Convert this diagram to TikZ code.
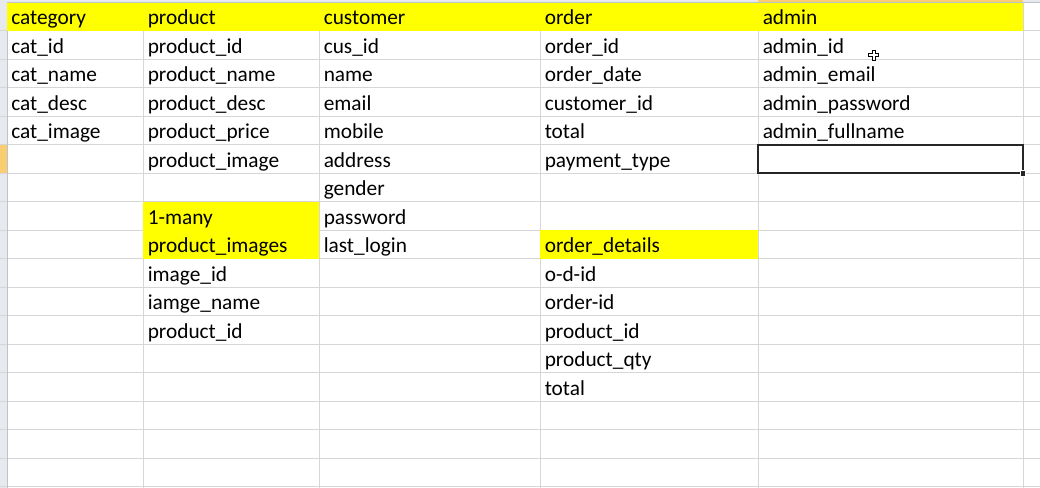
\documentclass[tikz,border=0pt]{standalone}
\usepackage{fontspec}
\setmainfont{Carlito}
\definecolor{cellyellow}{RGB}{255,255,0}
\definecolor{gridgray}{RGB}{214,214,214}
\definecolor{headgray}{RGB}{230,233,238}
\definecolor{headline}{RGB}{190,195,202}
\definecolor{headorange}{RGB}{248,206,112}
\tikzstyle{celltext}=[anchor=base west, inner sep=0pt, text=black, font=\fontsize{16}{19}\selectfont, yshift=-0.75pt]
\tikzstyle{gridline}=[draw=gridgray, line width=0.75pt]
\tikzstyle{yellowcell}=[fill=cellyellow]
\newcommand{\sheetcell}[4]{\node [celltext] (#1) at (#2,#3) {#4};}

\begin{document}
\begin{tikzpicture}[x=0.75pt, y=-0.75pt]
\useasboundingbox (0,0) rectangle (1040,488);
\fill [white] (0,0) rectangle (1040,488);
% row and column headers
\fill [headgray] (0,0) rectangle (1040,3);
\fill [headgray] (0,0) rectangle (7,488);
\fill [headorange] (758,0) rectangle (1023,3);
\fill [headorange] (0,145) rectangle (7,173.5);
% grid
\foreach \r in {0,...,16}
  \draw [gridline] (0,31+28.5*\r) -- (1040,31+28.5*\r);
\foreach \c in {143,319,540,758,1023}
  \draw [gridline] (\c,3) -- (\c,488);
\draw [draw=headline, line width=0.75pt] (7,3) -- (7,488);
\draw [draw=headline, line width=0.75pt] (7,3) -- (1040,3);
% yellow cells
\fill [yellowcell] (7.4,3.4) rectangle (1023,31);
\fill [yellowcell] (143.4,202) rectangle (319,259);
\fill [yellowcell] (540.4,230.5) rectangle (758,259);
% selected cell
\draw [black!85, line width=1.5pt] (758,145) rectangle (1023,173.5);
\fill [black!85, draw=white, line width=0.5pt] (1020,170.5) rectangle (1025.5,176);
% mouse pointer
\draw [fill=white, line width=0.6pt] (872,50) -- (875,50) -- (875,53.5) -- (878.5,53.5) -- (878.5,56.5) -- (875,56.5) -- (875,60) -- (872,60) -- (872,56.5) -- (868.5,56.5) -- (868.5,53.5) -- (872,53.5) -- cycle;

% category
\sheetcell{cat-head}{11}{24}{category}
\sheetcell{cat-id}{11}{52.5}{cat\_id}
\sheetcell{cat-name}{11}{81}{cat\_name}
\sheetcell{cat-desc}{11}{109.5}{cat\_desc}
\sheetcell{cat-image}{11}{138}{cat\_image}
% product
\sheetcell{prod-head}{147.5}{24}{product}
\sheetcell{prod-id}{147.5}{52.5}{product\_id}
\sheetcell{prod-name}{147.5}{81}{product\_name}
\sheetcell{prod-desc}{147.5}{109.5}{product\_desc}
\sheetcell{prod-price}{147.5}{138}{product\_price}
\sheetcell{prod-image}{147.5}{166.5}{product\_image}
\sheetcell{rel}{147.5}{223.5}{1-many}
\sheetcell{img-head}{147.5}{252}{product\_images}
\sheetcell{img-id}{147.5}{280.5}{image\_id}
\sheetcell{img-name}{147.5}{309}{iamge\_name}
\sheetcell{img-prod}{147.5}{337.5}{product\_id}
% customer
\sheetcell{cus-head}{323.5}{24}{customer}
\sheetcell{cus-id}{323.5}{52.5}{cus\_id}
\sheetcell{cus-name}{323.5}{81}{name}
\sheetcell{cus-email}{323.5}{109.5}{email}
\sheetcell{cus-mobile}{323.5}{138}{mobile}
\sheetcell{cus-address}{323.5}{166.5}{address}
\sheetcell{cus-gender}{323.5}{195}{gender}
\sheetcell{cus-pass}{323.5}{223.5}{password}
\sheetcell{cus-login}{323.5}{252}{last\_login}
% order
\sheetcell{ord-head}{544.5}{24}{order}
\sheetcell{ord-id}{544.5}{52.5}{order\_id}
\sheetcell{ord-date}{544.5}{81}{order\_date}
\sheetcell{ord-cus}{544.5}{109.5}{customer\_id}
\sheetcell{ord-total}{544.5}{138}{total}
\sheetcell{ord-pay}{544.5}{166.5}{payment\_type}
\sheetcell{det-head}{544.5}{252}{order\_details}
\sheetcell{det-id}{544.5}{280.5}{o-d-id}
\sheetcell{det-ord}{544.5}{309}{order-id}
\sheetcell{det-prod}{544.5}{337.5}{product\_id}
\sheetcell{det-qty}{544.5}{366}{product\_qty}
\sheetcell{det-total}{544.5}{394.5}{total}
% admin
\sheetcell{adm-head}{762.5}{24}{admin}
\sheetcell{adm-id}{762.5}{52.5}{admin\_id}
\sheetcell{adm-email}{762.5}{81}{admin\_email}
\sheetcell{adm-pass}{762.5}{109.5}{admin\_password}
\sheetcell{adm-full}{762.5}{138}{admin\_fullname}
\end{tikzpicture}
\end{document}
